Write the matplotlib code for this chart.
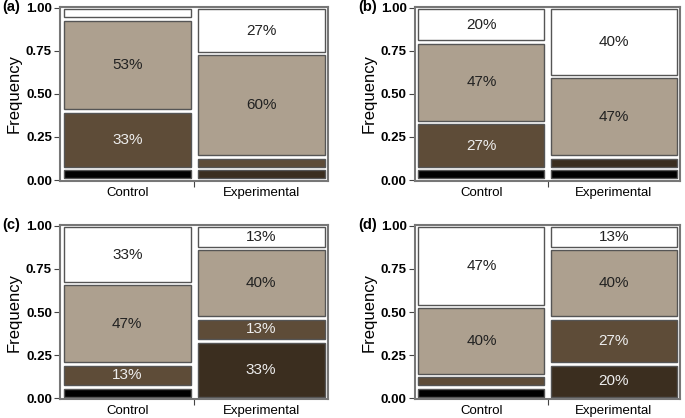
import matplotlib
matplotlib.use('Agg')
import matplotlib.pyplot as plt
import numpy as np

plt.rcParams.update({
    'font.family': 'Liberation Sans',
    'font.size': 10,
})

groups = ['Control', 'Experimental']
panels = ['(a)', '(b)', '(c)', '(d)']
# counts out of 15 per level, bottom to top: black, dark brown, brown, tan, white
counts_a = [[1, 0, 5, 8, 1], [0, 1, 1, 9, 4]]
counts_b = [[1, 0, 4, 7, 3], [1, 1, 0, 7, 6]]
counts_c = [[1, 0, 2, 7, 5], [0, 5, 2, 6, 2]]
counts_d = [[1, 0, 1, 6, 7], [0, 3, 4, 6, 2]]
all_counts = [counts_a, counts_b, counts_c, counts_d]

level_colors = ['#000000', '#3b2e1f', '#5e4c38', '#ada08f', '#ffffff']
text_colors = ['white', '#eeeeee', '#eeeeee', '#222222', '#222222']

fig = plt.figure(figsize=(6.85, 4.18), dpi=100)
positions = [
    [0.088, 0.567, 0.391, 0.417],
    [0.606, 0.567, 0.387, 0.417],
    [0.088, 0.045, 0.391, 0.417],
    [0.606, 0.045, 0.387, 0.417],
]

gap = 0.02
for pos, label, counts in zip(positions, panels, all_counts):
    ax = fig.add_axes(pos)
    xcent = [0.25, 0.75]
    for xi, cnt in zip(xcent, counts):
        cnt = np.array(cnt, dtype=float)
        frac = cnt / cnt.sum()
        bottom = 0.0
        for k, f in enumerate(frac):
            if f > 0:
                ax.bar(xi, f - gap, width=0.5 - 0.025, bottom=bottom + gap / 2,
                       color=level_colors[k], edgecolor='#555555', linewidth=1.0)
                if cnt[k] >= 2:
                    ax.text(xi, bottom + f / 2, f'{round(100 * f)}%',
                            ha='center', va='center', fontsize=11,
                            color=text_colors[k])
            bottom += f
    ax.set_xlim(0, 1)
    ax.set_ylim(-0.005, 1.005)
    ax.set_yticks([0, 0.25, 0.5, 0.75, 1.0])
    ax.set_yticklabels(['0.00', '0.25', '0.50', '0.75', '1.00'],
                       fontsize=9.5, fontweight='bold')
    ax.set_xticks([0.5])
    ax.set_xticklabels([''])
    ax.set_xticks(xcent, minor=True)
    ax.set_xticklabels(groups, minor=True, fontsize=9.5)
    ax.tick_params(axis='x', which='minor', length=0, pad=4)
    ax.tick_params(axis='x', which='major', length=4, color='#444444')
    ax.tick_params(axis='y', length=4, color='#444444', pad=2)
    for s in ax.spines.values():
        s.set_color('#777777')
        s.set_linewidth(1.5)
    ax.set_ylabel('Frequency', fontsize=12, labelpad=3)
    ax.text(-0.215, 1.0, label, transform=ax.transAxes, fontsize=10.5,
            fontweight='bold', ha='left', va='center')

plt.savefig('out.png', dpi=100)
